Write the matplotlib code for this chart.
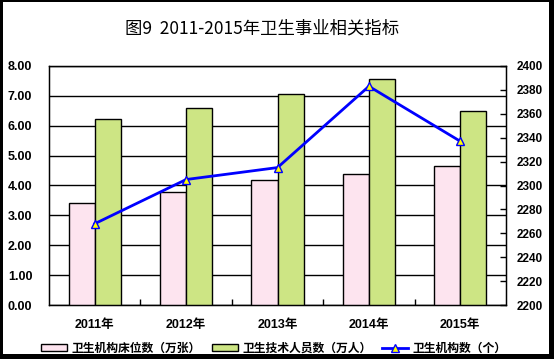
import matplotlib.pyplot as plt
import matplotlib.patches as mpatches
from matplotlib.lines import Line2D
import numpy as np

plt.rcParams['font.family'] = ['Liberation Sans', 'Noto Sans CJK SC', 'DejaVu Sans']

years = ["2011年", "2012年", "2013年", "2014年", "2015年"]
beds = [3.43, 3.77, 4.17, 4.37, 4.64]          # 卫生机构床位数（万张）
staff = [6.21, 6.61, 7.05, 7.55, 6.48]         # 卫生技术人员数（万人）
institutions = [2268, 2305, 2315, 2383, 2337]  # 卫生机构数（个）

fig = plt.figure(figsize=(5.54, 3.59), dpi=100, facecolor="black")
fig.patches.append(mpatches.Rectangle((3 / 554, 5 / 359), 546 / 554, 352 / 359,
                                      transform=fig.transFigure, facecolor="white",
                                      edgecolor="none", zorder=-10))

ax = fig.add_axes([49 / 554, (359 - 305) / 359, 457 / 554, 239 / 359])
ax.set_facecolor("white")
x = np.arange(len(years))
w = 0.285

ax.bar(x - w / 2, beds, width=w, color="#fde4ef", edgecolor="black", linewidth=1, zorder=3)
ax.bar(x + w / 2, staff, width=w, color="#cde584", edgecolor="black", linewidth=1, zorder=3)

ax.set_xlim(-0.5, 4.5)
ax.set_ylim(0, 8)
ax.set_yticks(np.arange(0, 8.01, 1))
ax.set_yticklabels([f"{v:.2f}" for v in np.arange(0, 8.01, 1)])
ax.yaxis.grid(True, color="black", linewidth=1)
ax.set_axisbelow(True)
ax.tick_params(axis="y", length=0, pad=12, labelsize=9)
ax.set_xticks(x)
ax.set_xticklabels(years)
ax.set_xticks(np.arange(0.5, 4.5, 1), minor=True)
ax.tick_params(axis="x", which="major", length=0, pad=10, labelsize=9)
ax.tick_params(axis="x", which="minor", direction="in", length=4, width=1)
for lab in ax.get_xticklabels() + ax.get_yticklabels():
    lab.set_fontweight("bold")
for s in ax.spines.values():
    s.set_linewidth(1)

ax2 = ax.twinx()
ax2.plot(x, institutions, color="#0000ff", linewidth=2, marker="^", markersize=6,
         markerfacecolor="#ffff00", markeredgecolor="#0000ff", markeredgewidth=1, zorder=5)
ax2.set_ylim(2200, 2400)
ax2.set_yticks(np.arange(2200, 2401, 20))
ax2.tick_params(axis="y", direction="in", length=4, width=1, pad=8, labelsize=8.5)
for lab in ax2.get_yticklabels():
    lab.set_fontweight("bold")
ax2.set_xlim(-0.5, 4.5)

fig.text(262 / 554, 1 - 28 / 359, "图9  2011-2015年卫生事业相关指标", ha="center", va="center",
         fontsize=12.5, family=['Noto Sans CJK SC', 'DejaVu Sans'])

handles = [
    mpatches.Patch(facecolor="#fde4ef", edgecolor="black", linewidth=1),
    mpatches.Patch(facecolor="#cde584", edgecolor="black", linewidth=1),
    Line2D([], [], color="#0000ff", linewidth=2, marker="^", markersize=6,
           markerfacecolor="#ffff00", markeredgecolor="#0000ff"),
]
labels = ["卫生机构床位数（万张）", "卫生技术人员数（万人）", "卫生机构数（个）"]
fig.legend(handles, labels, loc="center", bbox_to_anchor=(274 / 554, 1 - 348 / 359), ncol=3,
           frameon=False, handlelength=2.2, handleheight=0.5, handletextpad=0.4,
           columnspacing=0.9, prop={"family": ['Noto Sans CJK SC', 'DejaVu Sans'],
                                     "size": 8.5, "weight": "bold"})

fig.savefig("out.png", dpi=100, facecolor="black")
